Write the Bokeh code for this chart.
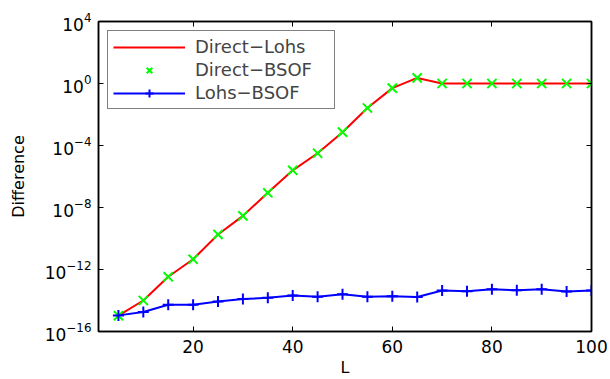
import numpy as np
from bokeh.plotting import figure
from bokeh.models import Range1d, FixedTicker, LinearAxis, LogAxis, Legend, LegendItem
from bokeh.embed import file_html
from bokeh.resources import INLINE

L = [5, 10, 15, 20, 25, 30, 35, 40, 45, 50, 55, 60, 65, 70, 75, 80, 85, 90, 95, 100]
direct_lohs_exp = [-14.98, -14.0, -12.47, -11.34, -9.74, -8.54, -7.05, -5.6, -4.5, -3.14,
                   -1.58, -0.3, 0.36, 0.0, 0.0, 0.0, 0.0, 0.0, 0.0, 0.0]
direct_bsof_exp = [-14.98, -14.0, -12.47, -11.34, -9.74, -8.54, -7.05, -5.6, -4.5, -3.14,
                   -1.58, -0.3, 0.36, 0.0, 0.0, 0.0, 0.0, 0.0, 0.0, 0.0]
lohs_bsof_exp = [-14.96, -14.74, -14.27, -14.27, -14.06, -13.91, -13.83, -13.68, -13.76, -13.59,
                 -13.76, -13.72, -13.78, -13.36, -13.40, -13.27, -13.34, -13.27, -13.42, -13.36]
x_ticks = [20, 40, 60, 80, 100]
y_ticks = [1e-16, 1e-12, 1e-8, 1e-4, 1e0, 1e4]

direct_lohs = [10.0 ** e for e in direct_lohs_exp]
direct_bsof = [10.0 ** e for e in direct_bsof_exp]
lohs_bsof = [10.0 ** e for e in lohs_bsof_exp]

FONT = "DejaVu Sans"

p = figure(width=608, height=379, y_axis_type="log",
           x_range=Range1d(1, 100), y_range=Range1d(1e-16, 1e4),
           output_backend="svg", toolbar_location=None,
           min_border_left=98, min_border_top=21, min_border_right=17, min_border_bottom=45)
p.grid.visible = False
p.outline_line_color = "black"
p.outline_line_width = 1.5

r_red = p.line(L, direct_lohs, line_color="#ff0000", line_width=2)
r_green = p.scatter(L, direct_bsof, marker="x", size=13, line_color="#00ff00", line_width=2)
r_blue_l = p.line(L, lohs_bsof, line_color="#0000ff", line_width=2)
r_blue_m = p.scatter(L, lohs_bsof, marker="cross", size=11, line_color="#0000ff", line_width=2)

for ax in (p.xaxis[0], p.yaxis[0]):
    ax.major_tick_in = 5
    ax.major_tick_out = 0
    ax.minor_tick_in = 0
    ax.minor_tick_out = 0
    ax.axis_line_color = "black"
    ax.axis_line_width = 1.5
    ax.major_label_text_font = FONT
    ax.major_label_text_font_size = "17px"
    ax.major_label_text_color = "black"
    ax.axis_label_text_font = FONT
    ax.axis_label_text_font_size = "16px"
    ax.axis_label_text_font_style = "normal"
    ax.axis_label_text_color = "black"

p.xaxis[0].ticker = FixedTicker(ticks=x_ticks)
p.yaxis[0].ticker = FixedTicker(ticks=y_ticks)
p.xaxis[0].axis_label = "L"
p.yaxis[0].axis_label = "Difference"
p.xaxis[0].major_label_standoff = 8
p.yaxis[0].major_label_standoff = 7
p.xaxis[0].axis_label_standoff = 2
p.yaxis[0].axis_label_standoff = 14

top = LinearAxis(ticker=FixedTicker(ticks=x_ticks), major_label_text_font_size="1px",
                 major_label_text_alpha=0,
                 major_tick_in=5, major_tick_out=0, minor_tick_in=0, minor_tick_out=0,
                 axis_line_width=1.5, major_label_standoff=0)
right = LogAxis(ticker=FixedTicker(ticks=y_ticks), major_label_text_font_size="1px",
                major_label_text_alpha=0,
                major_tick_in=5, major_tick_out=0, minor_tick_in=0, minor_tick_out=0,
                axis_line_width=1.5, major_label_standoff=0)
p.add_layout(top, "above")
p.add_layout(right, "right")

legend = Legend(items=[
    LegendItem(label="Direct\u2212Lohs", renderers=[r_red]),
    LegendItem(label="Direct\u2212BSOF", renderers=[r_green]),
    LegendItem(label="Lohs\u2212BSOF", renderers=[r_blue_l, r_blue_m]),
], location="top_left")
legend.margin = 9
legend.glyph_width = 72
legend.glyph_height = 20
legend.label_height = 20
legend.label_width = 134
legend.spacing = 2
legend.padding = 5
legend.label_standoff = 10
legend.label_text_font = FONT
legend.label_text_font_size = "18px"
legend.border_line_color = "black"
legend.border_line_width = 1.5
legend.background_fill_alpha = 1
p.add_layout(legend, "center")

open("out.html", "w").write(file_html(p, INLINE))
